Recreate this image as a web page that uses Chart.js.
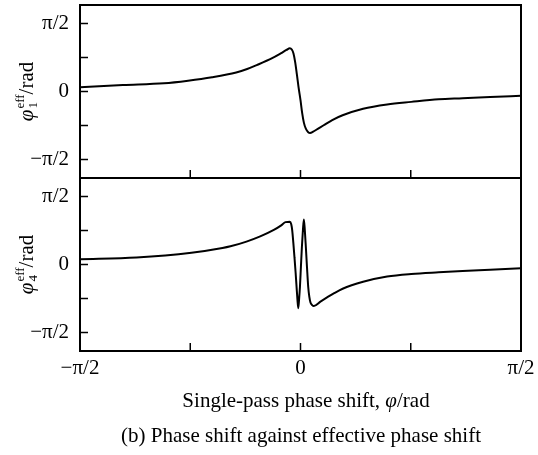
<!DOCTYPE html>
<html>
<head>
<meta charset="utf-8">
<script src="https://cdn.jsdelivr.net/npm/chart.js@4.4.0/dist/chart.umd.min.js"></script>
<style>
  html, body { margin: 0; padding: 0; background: #fff; }
  #wrap { position: relative; width: 538px; height: 455px; overflow: hidden;
          font-family: "Liberation Serif", "Times New Roman", serif; color: #000; }
  canvas { position: absolute; left: 0; }
  #topChart { top: 0; }
  #bottomChart { top: 170px; }
  .label { position: absolute; white-space: nowrap; font-size: 21px; line-height: 1;
           transform: translate(-50%, -50%); }
</style>
</head>
<body>
<div id="wrap">
  <canvas id="topChart" width="538" height="180"></canvas>
  <canvas id="bottomChart" width="538" height="285"></canvas>
  <div class="label" style="left:306px;top:400px">Single-pass phase shift, <i>φ</i>/rad</div>
  <div class="label" style="left:301px;top:435px">(b) Phase shift against effective phase shift</div>
</div>
<script>
const HALF_PI = Math.PI / 2;

// single-pass phase shift (rad) vs effective phase shift (rad)
const phiX1 = [-1.5708, -1.265, -0.972, -0.801, -0.630, -0.458, -0.380, -0.312, -0.202, -0.141,
  -0.100, -0.076, -0.062, -0.050, -0.038, -0.026, -0.014, 0.000, 0.012, 0.024,
  0.038, 0.055, 0.068, 0.090, 0.120, 0.165, 0.226, 0.300, 0.446, 0.617,
  0.789, 0.984, 1.155, 1.351, 1.5708];
const phiEff1 = [0.10, 0.15, 0.19, 0.25, 0.33, 0.44, 0.52, 0.61, 0.77, 0.88,
  0.96, 1.00, 0.97, 0.88, 0.68, 0.40, 0.10, -0.20, -0.50, -0.72,
  -0.86, -0.94, -0.96, -0.93, -0.87, -0.78, -0.66, -0.55, -0.40, -0.30,
  -0.24, -0.18, -0.155, -0.125, -0.10];

const phiX4 = [-1.5708, -1.168, -0.777, -0.556, -0.499, -0.385, -0.287, -0.190, -0.140, -0.107,
  -0.076, -0.066, -0.059, -0.051, -0.043, -0.035, -0.028, -0.022, -0.016, -0.010,
  -0.004, 0.003, 0.010, 0.017, 0.024, 0.031, 0.038, 0.046, 0.055, 0.063,
  0.071, 0.083, 0.095, 0.142, 0.237, 0.300, 0.446, 0.617, 0.789, 0.984,
  1.155, 1.351, 1.5708];
const phiEff4 = [0.12, 0.16, 0.27, 0.38, 0.42, 0.53, 0.65, 0.80, 0.90, 0.98,
  0.99, 0.93, 0.79, 0.50, 0.17, -0.18, -0.52, -0.80, -1.01, -0.80,
  -0.52, -0.05, 0.41, 0.78, 1.04, 0.78, 0.41, -0.05, -0.52, -0.75,
  -0.88, -0.94, -0.96, -0.86, -0.67, -0.56, -0.40, -0.28, -0.22, -0.18,
  -0.15, -0.12, -0.085];

const xTickValues = [-HALF_PI, -HALF_PI / 2, 0, HALF_PI / 2, HALF_PI];
const xTickLabels = ['−π/2', '', '0', '', 'π/2'];
const yTickValues = [-HALF_PI, -HALF_PI / 2, 0, HALF_PI / 2, HALF_PI];
const yTickLabels = ['−π/2', '', '0', '', 'π/2'];

const FONT = '"Liberation Serif"';

// box, inward ticks and the rotated y title with sub/superscript
const framePlugin = {
  id: 'frame',
  afterDraw(chart, args, opts) {
    const { ctx, chartArea: a, scales } = chart;
    ctx.save();
    ctx.strokeStyle = '#000';
    ctx.lineWidth = 2;
    ctx.strokeRect(a.left, a.top, a.right - a.left, a.bottom - a.top);

    ctx.lineWidth = 1.5;
    ctx.beginPath();
    yTickValues.forEach(v => {
      const y = scales.y.getPixelForValue(v);
      ctx.moveTo(a.left, y);
      ctx.lineTo(a.left + 8, y);
    });
    xTickValues.forEach(v => {
      const x = scales.x.getPixelForValue(v);
      ctx.moveTo(x, a.bottom);
      ctx.lineTo(x, a.bottom - 8);
    });
    ctx.stroke();

    const big = '21px ' + FONT;
    const bigItalic = 'italic 21px ' + FONT;
    const small = '13px ' + FONT;
    ctx.fillStyle = '#000';
    ctx.textAlign = 'left';
    ctx.textBaseline = 'alphabetic';
    ctx.font = bigItalic;
    const wPhi = ctx.measureText('φ').width;
    ctx.font = small;
    const wSmall = Math.max(ctx.measureText('eff').width, ctx.measureText(opts.sub).width);
    ctx.font = big;
    const wRad = ctx.measureText('/rad').width;
    const total = wPhi + wSmall + wRad + 1;

    ctx.translate(33, scales.y.getPixelForValue(0));
    ctx.rotate(-Math.PI / 2);
    let x = -total / 2;
    ctx.font = bigItalic;
    ctx.fillText('φ', x, 0);
    x += wPhi + 1;
    ctx.font = small;
    ctx.fillText('eff', x, -9);
    ctx.fillText(opts.sub, x, 4);
    x += wSmall;
    ctx.font = big;
    ctx.fillText('/rad', x, 0);
    ctx.restore();
  }
};

function makeChart(id, xs, ys, sub, showX, padding, xHeight) {
  const ctx = document.getElementById(id);
  return new Chart(ctx, {
    type: 'line',
    data: {
      datasets: [{
        data: xs.map((x, i) => ({ x: x, y: ys[i] })),
        borderColor: '#000',
        borderWidth: 2,
        pointRadius: 0,
        fill: false,
        cubicInterpolationMode: 'monotone'
      }]
    },
    options: {
      responsive: false,
      animation: false,
      devicePixelRatio: 1,
      layout: { padding: padding },
      plugins: {
        legend: { display: false },
        tooltip: { enabled: false },
        frame: { sub: sub }
      },
      scales: {
        x: {
          type: 'linear',
          display: showX,
          min: -HALF_PI,
          max: HALF_PI,
          afterFit(scale) {
            scale.height = xHeight;
            scale.paddingLeft = 0;
            scale.paddingRight = 0;
          },
          afterBuildTicks(scale) { scale.ticks = xTickValues.map(v => ({ value: v })); },
          grid: { display: false, drawTicks: false },
          border: { display: false },
          ticks: {
            padding: 5,
            autoSkip: false,
            maxRotation: 0,
            color: '#000',
            font: { family: 'Liberation Serif', size: 21 },
            callback: (v, i) => xTickLabels[i]
          }
        },
        y: {
          min: -2,
          max: 2,
          afterFit(scale) {
            scale.width = 80;
            scale.paddingTop = 0;
            scale.paddingBottom = 0;
          },
          afterBuildTicks(scale) { scale.ticks = yTickValues.map(v => ({ value: v })); },
          grid: { display: false, drawTicks: false },
          border: { display: false },
          ticks: {
            padding: 11,
            autoSkip: false,
            color: '#000',
            font: { family: 'Liberation Serif', size: 21 },
            callback: (v, i) => yTickLabels[i]
          }
        }
      }
    },
    plugins: [framePlugin]
  });
}

makeChart('topChart', phiX1, phiEff1, '1', false, { top: 5, right: 17, bottom: 2, left: 0 }, 0);
makeChart('bottomChart', phiX4, phiEff4, '4', true, { top: 8, right: 17, bottom: 64, left: 0 }, 40);
</script>
</body>
</html>
